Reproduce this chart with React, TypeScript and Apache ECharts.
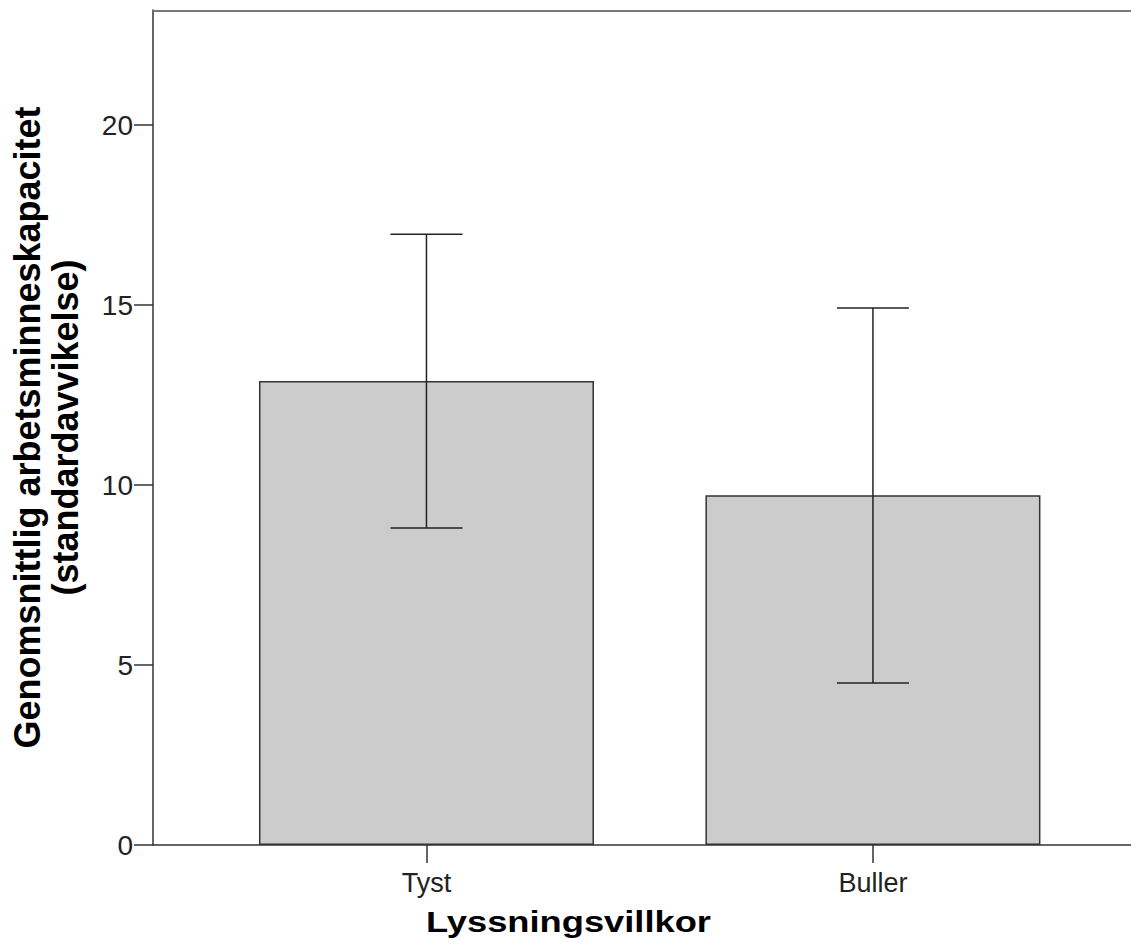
import React, { useEffect, useRef } from "react";
import * as echarts from "echarts";

const categories = ["Tyst", "Buller"];
const means = [12.89, 9.72];
const errLow = [8.81, 4.5];
const errHigh = [16.97, 14.92];
const yTicks = [0, 5, 10, 15, 20];

const yTitle = "Genomsnittlig arbetsminneskapacitet\n(standardavvikelse)";
const xTitle = "Lyssningsvillkor";

export default function App() {
  const ref = useRef<HTMLDivElement>(null);
  useEffect(() => {
    if (!ref.current) return;
    const chart = echarts.init(ref.current, null, { renderer: "svg" });
    const font = "'Liberation Sans', Arial, sans-serif";
    const option: any = {
      animation: false,
      backgroundColor: "#ffffff",
      grid: { left: 153, top: 10, right: 0, bottom: 98, show: false },
      xAxis: {
        type: "value",
        min: 0.3875,
        max: 2.578,
        axisLine: { show: true, onZero: false, lineStyle: { color: "#333", width: 1.5 } },
        axisTick: { show: true, customValues: [1, 2], length: 18, lineStyle: { color: "#333", width: 1.5 } },
        axisLabel: {
          show: true,
          customValues: [1, 2],
          formatter: (v: number) => categories[Math.round(v) - 1] ?? "",
          margin: 24,
          fontSize: 27,
          color: "#222",
          fontFamily: font,
        },
        splitLine: { show: false },
      },
      yAxis: {
        type: "value",
        min: 0,
        max: 23.2,
        interval: 5,
        axisLine: { show: true, lineStyle: { color: "#333", width: 1.5 } },
        axisTick: { show: true, customValues: yTicks, length: 19, lineStyle: { color: "#333", width: 1.5 } },
        axisLabel: {
          customValues: yTicks,
          margin: 20,
          fontSize: 28,
          color: "#222",
          fontFamily: font,
          formatter: (v: number) => String(v),
        },
        splitLine: { show: false },
      },
      series: [
        {
          type: "bar",
          data: means.map((m, i) => [i + 1, m]),
          barWidth: 335,
          itemStyle: { color: "#cccccc", borderColor: "#333", borderWidth: 1.5 },
          z: 2,
        },
        {
          type: "custom",
          data: categories.map((_, i) => [i + 1, errLow[i], errHigh[i]]),
          renderItem: (params: any, api: any) => {
            const x = api.value(0);
            const lo = api.coord([x, api.value(1)]);
            const hi = api.coord([x, api.value(2)]);
            const hw = 36;
            const style = { stroke: "#222", lineWidth: 1.5, fill: "none" };
            return {
              type: "group",
              children: [
                { type: "line", shape: { x1: hi[0], y1: hi[1], x2: lo[0], y2: lo[1] }, style },
                { type: "line", shape: { x1: hi[0] - hw, y1: hi[1], x2: hi[0] + hw, y2: hi[1] }, style },
                { type: "line", shape: { x1: lo[0] - hw, y1: lo[1], x2: lo[0] + hw, y2: lo[1] }, style },
              ],
            };
          },
          z: 3,
        },
      ],
      graphic: [
        {
          type: "line",
          shape: { x1: 153, y1: 11, x2: 1131, y2: 11 },
          style: { stroke: "#777", lineWidth: 2 },
          z: 5,
        },
        {
          type: "text",
          x: 46,
          y: 427.5,
          rotation: Math.PI / 2,
          style: {
            text: yTitle,
            fontSize: 36,
            fontWeight: "bold",
            fontFamily: font,
            fill: "#000",
            textAlign: "center",
            textVerticalAlign: "middle",
            lineHeight: 38,
          },
        },
        {
          type: "text",
          x: 568.5,
          y: 922,
          scaleX: 1.21,
          style: {
            text: xTitle,
            fontSize: 30,
            fontWeight: "bold",
            fontFamily: font,
            fill: "#000",
            textAlign: "center",
            textVerticalAlign: "middle",
          },
        },
      ],
    };
    chart.setOption(option);
    return () => chart.dispose();
  }, []);
  return (
    <div
      ref={ref}
      style={{ position: "absolute", left: 0, top: 0, width: 1131, height: 943 }}
    />
  );
}
